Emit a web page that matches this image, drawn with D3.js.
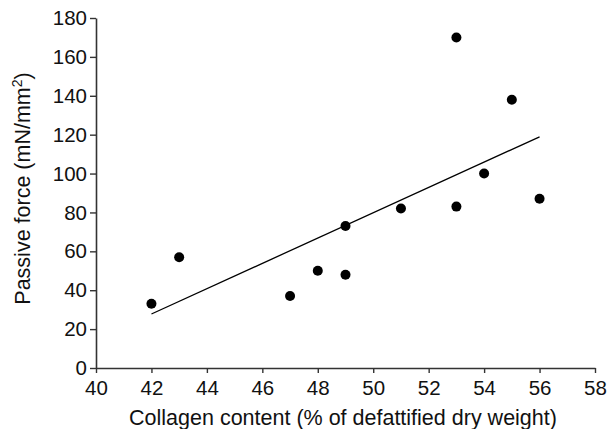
<!DOCTYPE html>
<html>
<head>
<meta charset="utf-8">
<script src="https://cdn.jsdelivr.net/npm/d3@7"></script>
<style>
  body { margin: 0; background: #fff; }
  text { font-family: "Liberation Sans", Arial, sans-serif; fill: #111; }
</style>
</head>
<body>
<div id="chart"></div>
<script>
const collagen = [42, 43, 47, 48, 49, 49, 51, 53, 53, 54, 55, 56];
const passiveForce = [33, 57, 37, 50, 73, 48, 82, 83, 170, 100, 138, 87];
const xTicks = [40, 42, 44, 46, 48, 50, 52, 54, 56, 58];
const yTicks = [0, 20, 40, 60, 80, 100, 120, 140, 160, 180];

const width = 608, height = 429;
const margin = { top: 18, right: 13, bottom: 61, left: 96 };

const svg = d3.select("#chart").append("svg")
  .attr("width", width)
  .attr("height", height);

const x = d3.scaleLinear().domain([40, 58]).range([margin.left, width - margin.right]);
const y = d3.scaleLinear().domain([0, 180]).range([height - margin.bottom, margin.top]);

// axes
const xAxis = svg.append("g")
  .attr("transform", `translate(0,${height - margin.bottom})`)
  .call(d3.axisBottom(x).tickValues(xTicks).tickSize(5).tickPadding(7).tickSizeOuter(0));
const yAxis = svg.append("g")
  .attr("transform", `translate(${margin.left},0)`)
  .call(d3.axisLeft(y).tickValues(yTicks).tickSize(6).tickPadding(3).tickSizeOuter(0));

[xAxis, yAxis].forEach(a => {
  a.select(".domain").attr("stroke", "#333").attr("stroke-width", 1.6);
  a.selectAll(".tick line").attr("stroke", "#333").attr("stroke-width", 1.4);
  a.selectAll(".tick text").attr("font-size", 20.5).attr("fill", "#111")
    .attr("font-family", "Liberation Sans, Arial, sans-serif");
});

// least squares line
const mx = d3.mean(collagen), my = d3.mean(passiveForce);
const sxy = d3.sum(collagen, (v, i) => (v - mx) * (passiveForce[i] - my));
const sxx = d3.sum(collagen, v => (v - mx) * (v - mx));
const slope = sxy / sxx, icpt = my - slope * mx;
const xr = d3.extent(collagen);

svg.append("line")
  .attr("x1", x(xr[0])).attr("y1", y(icpt + slope * xr[0]))
  .attr("x2", x(xr[1])).attr("y2", y(icpt + slope * xr[1]))
  .attr("stroke", "#000").attr("stroke-width", 1.3);

// points
svg.selectAll("circle")
  .data(collagen)
  .join("circle")
  .attr("cx", d => x(d))
  .attr("cy", (d, i) => y(passiveForce[i]))
  .attr("r", 5)
  .attr("fill", "#000");

// titles
svg.append("text")
  .attr("x", 343).attr("y", 425)
  .attr("text-anchor", "middle")
  .attr("font-size", 21.5)
  .text("Collagen content (% of defattified dry weight)");

const yt = svg.append("text")
  .attr("transform", `translate(30,188.5) rotate(-90)`)
  .attr("text-anchor", "middle")
  .attr("font-size", 21.5);
yt.append("tspan").text("Passive force (mN/mm");
yt.append("tspan").attr("font-size", 14).attr("dy", -8).text("2");
yt.append("tspan").attr("dy", 8).text(")");
</script>
</body>
</html>
